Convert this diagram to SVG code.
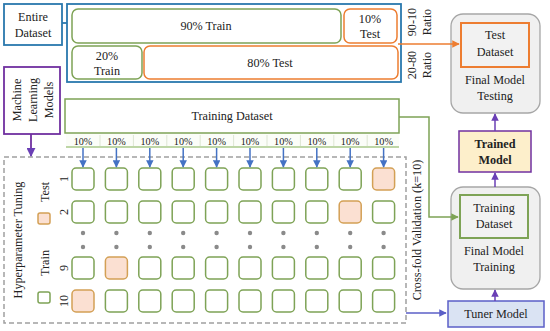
<svg xmlns="http://www.w3.org/2000/svg" width="550" height="331" viewBox="0 0 550 331">
<defs>
<style>
text{font-family:"Liberation Serif","Times New Roman",serif;fill:#222;}
.t11{font-size:12.2px;text-anchor:middle;}
.t10{font-size:10.2px;text-anchor:middle;}
.gbox{fill:#fff;stroke:#7ea356;stroke-width:1.5;}
.obox{fill:#fff;stroke:#ed7d31;stroke-width:1.5;}
.sq{fill:#fff;stroke:#7ea356;stroke-width:1.5;}
.sqt{fill:#fbe0d2;stroke:#d3a055;stroke-width:1.5;}
.gray{fill:#f0f0f0;stroke:#a6a6a6;stroke-width:1.3;}
.dot{fill:#8a8a8a;}
.barrow{stroke:#4472c4;stroke-width:1.5;fill:none;}
</style>
<marker id="mb" viewBox="0 0 10 10" refX="9" refY="5" markerWidth="5" markerHeight="5" orient="auto"><path d="M0,0L10,5L0,10z" fill="#4472c4"/></marker>
<marker id="mp" viewBox="0 0 10 10" refX="9" refY="5" markerWidth="5" markerHeight="5" orient="auto"><path d="M0,0L10,5L0,10z" fill="#6a3fb5"/></marker>
<marker id="mo" viewBox="0 0 10 10" refX="9" refY="5" markerWidth="5" markerHeight="5" orient="auto"><path d="M0,0L10,5L0,10z" fill="#ed7d31"/></marker>
<marker id="mg" viewBox="0 0 10 10" refX="9" refY="5" markerWidth="5" markerHeight="5" orient="auto"><path d="M0,0L10,5L0,10z" fill="#7ea356"/></marker>
<marker id="mt" viewBox="0 0 10 10" refX="9" refY="5" markerWidth="5" markerHeight="5" orient="auto"><path d="M0,0L10,5L0,10z" fill="#5b5fc7"/></marker>
</defs>

<g id="entire-dataset">
<rect x="4" y="4" width="58" height="41" fill="#fff" stroke="#2a78ad" stroke-width="1.8"/>
<text class="t11" x="33" y="21">Entire</text>
<text class="t11" x="33" y="37">Dataset</text>
</g>

<g id="split-container">
<rect x="67" y="4" width="334" height="78" fill="#fff" stroke="#2a78ad" stroke-width="1.8"/>
<rect class="gbox" x="72" y="9" width="269" height="34" rx="6"/>
<text class="t11" x="206" y="30">90% Train</text>
<rect class="obox" x="344" y="9" width="53" height="34" rx="6"/>
<text class="t11" x="370" y="23">10%</text>
<text class="t11" x="370" y="38">Test</text>
<rect class="gbox" x="72" y="46" width="70" height="33" rx="6"/>
<text class="t11" x="107" y="60">20%</text>
<text class="t11" x="107" y="75">Train</text>
<rect class="obox" x="144" y="46" width="254" height="33" rx="6"/>
<text class="t11" x="270" y="67">80% Test</text>
</g>

<g id="ratio-labels">
<text class="t11" transform="translate(412,22) rotate(-90)" dy="0.35em">90-10</text>
<text class="t11" transform="translate(427,22) rotate(-90)" dy="0.35em">Ratio</text>
<text class="t11" transform="translate(412,65) rotate(-90)" dy="0.35em">20-80</text>
<text class="t11" transform="translate(427,65) rotate(-90)" dy="0.35em">Ratio</text>
</g>

<g id="final-model-testing">
<rect class="gray" x="451" y="14" width="89" height="99" rx="12"/>
<rect x="461" y="23" width="68" height="44" fill="#f2f2f2" stroke="#ed7d31" stroke-width="2"/>
<text class="t11" x="495" y="39">Test</text>
<text class="t11" x="495" y="56">Dataset</text>
<text class="t11" x="495" y="84">Final Model</text>
<text class="t11" x="495" y="100">Testing</text>
</g>

<g id="trained-model">
<rect x="459" y="131" width="72" height="41" fill="#fdefcb" stroke="#7030a0" stroke-width="1.5"/>
<text class="t11" x="495" y="148" font-weight="bold">Trained</text>
<text class="t11" x="495" y="164" font-weight="bold">Model</text>
</g>

<g id="final-model-training">
<rect class="gray" x="451" y="187" width="89" height="102" rx="12"/>
<rect x="460" y="195" width="68" height="43" fill="#f2f2f2" stroke="#7ea356" stroke-width="2"/>
<text class="t11" x="494" y="212">Training</text>
<text class="t11" x="494" y="228">Dataset</text>
<text class="t11" x="494" y="255">Final Model</text>
<text class="t11" x="494" y="271">Training</text>
</g>

<g id="tuner-model">
<rect x="448" y="301" width="96" height="26" fill="#dae3f3" stroke="#5b5fc7" stroke-width="1.5"/>
<text class="t11" x="496" y="318">Tuner Model</text>
</g>

<g id="ml-models">
<rect x="4" y="67" width="56" height="67" fill="#fff" stroke="#7030a0" stroke-width="1.8"/>
<text class="t11" transform="translate(17,100) rotate(-90)" dy="0.35em">Machine</text>
<text class="t11" transform="translate(33,100) rotate(-90)" dy="0.35em">Learning</text>
<text class="t11" transform="translate(49,100) rotate(-90)" dy="0.35em">Models</text>
</g>

<g id="training-dataset">
<rect x="65" y="99" width="334" height="34" fill="#fff" stroke="#7ea356" stroke-width="1.5"/>
<text class="t11" x="232" y="120">Training Dataset</text>
<rect x="66" y="134" width="333" height="13" fill="#fbfdf8"/>
<line x1="66" y1="147" x2="399" y2="147" stroke="#a9c98a" stroke-width="1.5"/>
<g stroke="#dde6d3" stroke-width="1">
<line x1="100" y1="135" x2="100" y2="146"/><line x1="133.4" y1="135" x2="133.4" y2="146"/><line x1="166.8" y1="135" x2="166.8" y2="146"/><line x1="200.2" y1="135" x2="200.2" y2="146"/><line x1="233.6" y1="135" x2="233.6" y2="146"/><line x1="267" y1="135" x2="267" y2="146"/><line x1="300.4" y1="135" x2="300.4" y2="146"/><line x1="333.8" y1="135" x2="333.8" y2="146"/><line x1="367.2" y1="135" x2="367.2" y2="146"/>
</g>
<text class="t10" x="83" y="145">10%</text>
<text class="t10" x="116.4" y="145">10%</text>
<text class="t10" x="149.8" y="145">10%</text>
<text class="t10" x="183.2" y="145">10%</text>
<text class="t10" x="216.6" y="145">10%</text>
<text class="t10" x="250" y="145">10%</text>
<text class="t10" x="283.4" y="145">10%</text>
<text class="t10" x="316.8" y="145">10%</text>
<text class="t10" x="350.2" y="145">10%</text>
<text class="t10" x="383.6" y="145">10%</text>
</g>

<g id="cross-validation">
<rect x="4" y="157" width="402" height="166" fill="none" stroke="#a0a0a0" stroke-width="1.5" stroke-dasharray="5,3"/>
<text class="t11" transform="translate(18,240) rotate(-90)" dy="0.35em">Hyperparameter Tuning</text>
<text class="t11" transform="translate(45,192) rotate(-90)" dy="0.35em">Test</text>
<rect class="sqt" x="38" y="213" width="12" height="11" rx="2"/>
<text class="t11" transform="translate(45,263) rotate(-90)" dy="0.35em">Train</text>
<rect class="sq" x="38" y="292" width="12" height="11" rx="2"/>
<text class="t11" transform="translate(64,179) rotate(-90)" dy="0.35em">1</text>
<text class="t11" transform="translate(64,212) rotate(-90)" dy="0.35em">2</text>
<text class="t11" transform="translate(64,268) rotate(-90)" dy="0.35em">9</text>
<text class="t11" transform="translate(64,301) rotate(-90)" dy="0.35em">10</text>
<text class="t11" transform="translate(417,230) rotate(-90)" dy="0.35em">Cross-fold Validation (k=10)</text>
<g id="row1">
<rect class="sq" x="72" y="168" width="22" height="22" rx="4"/><rect class="sq" x="105.4" y="168" width="22" height="22" rx="4"/><rect class="sq" x="138.8" y="168" width="22" height="22" rx="4"/><rect class="sq" x="172.2" y="168" width="22" height="22" rx="4"/><rect class="sq" x="205.6" y="168" width="22" height="22" rx="4"/><rect class="sq" x="239" y="168" width="22" height="22" rx="4"/><rect class="sq" x="272.4" y="168" width="22" height="22" rx="4"/><rect class="sq" x="305.8" y="168" width="22" height="22" rx="4"/><rect class="sq" x="339.2" y="168" width="22" height="22" rx="4"/><rect class="sqt" x="372.6" y="168" width="22" height="22" rx="4"/>
</g>
<g id="row2">
<rect class="sq" x="72" y="201" width="22" height="22" rx="4"/><rect class="sq" x="105.4" y="201" width="22" height="22" rx="4"/><rect class="sq" x="138.8" y="201" width="22" height="22" rx="4"/><rect class="sq" x="172.2" y="201" width="22" height="22" rx="4"/><rect class="sq" x="205.6" y="201" width="22" height="22" rx="4"/><rect class="sq" x="239" y="201" width="22" height="22" rx="4"/><rect class="sq" x="272.4" y="201" width="22" height="22" rx="4"/><rect class="sq" x="305.8" y="201" width="22" height="22" rx="4"/><rect class="sqt" x="339.2" y="201" width="22" height="22" rx="4"/><rect class="sq" x="372.6" y="201" width="22" height="22" rx="4"/>
</g>
<g id="dots">
<circle class="dot" cx="83" cy="233" r="2.2"/><circle class="dot" cx="116.4" cy="233" r="2.2"/><circle class="dot" cx="149.8" cy="233" r="2.2"/><circle class="dot" cx="183.2" cy="233" r="2.2"/><circle class="dot" cx="216.6" cy="233" r="2.2"/><circle class="dot" cx="250" cy="233" r="2.2"/><circle class="dot" cx="283.4" cy="233" r="2.2"/><circle class="dot" cx="316.8" cy="233" r="2.2"/><circle class="dot" cx="350.2" cy="233" r="2.2"/><circle class="dot" cx="383.6" cy="233" r="2.2"/>
<circle class="dot" cx="83" cy="247" r="2.2"/><circle class="dot" cx="116.4" cy="247" r="2.2"/><circle class="dot" cx="149.8" cy="247" r="2.2"/><circle class="dot" cx="183.2" cy="247" r="2.2"/><circle class="dot" cx="216.6" cy="247" r="2.2"/><circle class="dot" cx="250" cy="247" r="2.2"/><circle class="dot" cx="283.4" cy="247" r="2.2"/><circle class="dot" cx="316.8" cy="247" r="2.2"/><circle class="dot" cx="350.2" cy="247" r="2.2"/><circle class="dot" cx="383.6" cy="247" r="2.2"/>
</g>
<g id="row9">
<rect class="sq" x="72" y="257" width="22" height="22" rx="4"/><rect class="sqt" x="105.4" y="257" width="22" height="22" rx="4"/><rect class="sq" x="138.8" y="257" width="22" height="22" rx="4"/><rect class="sq" x="172.2" y="257" width="22" height="22" rx="4"/><rect class="sq" x="205.6" y="257" width="22" height="22" rx="4"/><rect class="sq" x="239" y="257" width="22" height="22" rx="4"/><rect class="sq" x="272.4" y="257" width="22" height="22" rx="4"/><rect class="sq" x="305.8" y="257" width="22" height="22" rx="4"/><rect class="sq" x="339.2" y="257" width="22" height="22" rx="4"/><rect class="sq" x="372.6" y="257" width="22" height="22" rx="4"/>
</g>
<g id="row10">
<rect class="sqt" x="72" y="290" width="22" height="22" rx="4"/><rect class="sq" x="105.4" y="290" width="22" height="22" rx="4"/><rect class="sq" x="138.8" y="290" width="22" height="22" rx="4"/><rect class="sq" x="172.2" y="290" width="22" height="22" rx="4"/><rect class="sq" x="205.6" y="290" width="22" height="22" rx="4"/><rect class="sq" x="239" y="290" width="22" height="22" rx="4"/><rect class="sq" x="272.4" y="290" width="22" height="22" rx="4"/><rect class="sq" x="305.8" y="290" width="22" height="22" rx="4"/><rect class="sq" x="339.2" y="290" width="22" height="22" rx="4"/><rect class="sq" x="372.6" y="290" width="22" height="22" rx="4"/>
</g>
</g>

<g id="connectors">
<line x1="62" y1="23" x2="67" y2="23" stroke="#2a78ad" stroke-width="1.8"/>
<line x1="398" y1="44" x2="459" y2="44" stroke="#ed7d31" stroke-width="1.5" marker-end="url(#mo)"/>
<line x1="31" y1="134" x2="31" y2="156" stroke="#7030a0" stroke-width="1.8" marker-end="url(#mp)"/>
<g marker-end="url(#mb)" class="barrow">
<line x1="83" y1="148" x2="83" y2="167"/><line x1="116.4" y1="148" x2="116.4" y2="167"/><line x1="149.8" y1="148" x2="149.8" y2="167"/><line x1="183.2" y1="148" x2="183.2" y2="167"/><line x1="216.6" y1="148" x2="216.6" y2="167"/><line x1="250" y1="148" x2="250" y2="167"/><line x1="283.4" y1="148" x2="283.4" y2="167"/><line x1="316.8" y1="148" x2="316.8" y2="167"/><line x1="350.2" y1="148" x2="350.2" y2="167"/><line x1="383.6" y1="148" x2="383.6" y2="167"/>
</g>
<polyline points="399,117 429,117 429,217 458,217" fill="none" stroke="#7ea356" stroke-width="1.5" marker-end="url(#mg)"/>
<line x1="406" y1="313" x2="446" y2="313" stroke="#5b5fc7" stroke-width="1.5" marker-end="url(#mt)"/>
<line x1="495" y1="301" x2="495" y2="290" stroke="#6a3fb5" stroke-width="1.5" marker-end="url(#mp)"/>
<line x1="495" y1="187" x2="495" y2="173" stroke="#6a3fb5" stroke-width="1.5" marker-end="url(#mp)"/>
<line x1="495" y1="131" x2="495" y2="114" stroke="#6a3fb5" stroke-width="1.5" marker-end="url(#mp)"/>
</g>
</svg>
